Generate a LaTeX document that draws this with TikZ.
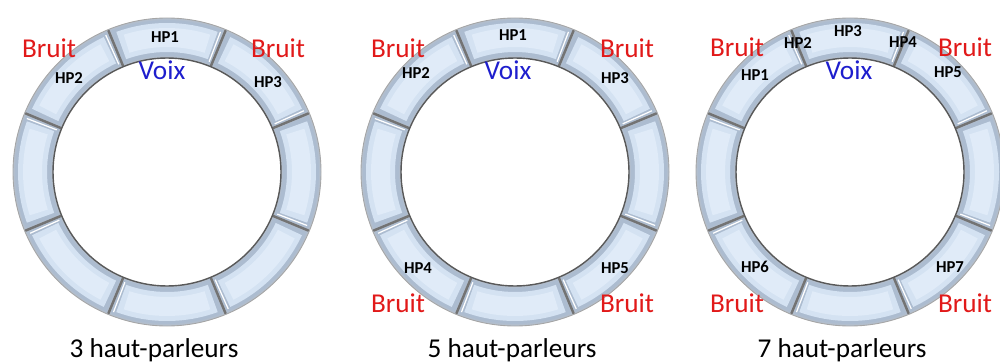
\documentclass[tikz,border=0pt]{standalone}
\usepackage{fontspec}
\setmainfont{Carlito}
\definecolor{bord}{RGB}{178,190,205}
\definecolor{segfond}{RGB}{172,188,208}
\definecolor{segclair}{RGB}{212,226,242}
\definecolor{segblanc}{RGB}{224,235,248}
\definecolor{rouge}{RGB}{225,25,25}
\definecolor{bleu}{RGB}{30,30,205}
\begin{document}
\begin{tikzpicture}[x=0.02cm,y=0.02cm,
		bruit/.style={text=rouge,font=\fontsize{15.5}{16}\selectfont,inner sep=0pt},
		voix/.style={text=bleu,font=\fontsize{15.5}{16}\selectfont,inner sep=0pt},
		hp/.style={font=\bfseries\fontsize{9.5}{10}\selectfont,inner sep=0pt},
		titre/.style={font=\fontsize{15.5}{16}\selectfont,inner sep=0pt},
		separation/.style={draw=black!55,line width=1.4pt,line cap=round},
		reflet/.style={draw=white,line width=0.7pt}]
		\useasboundingbox (0,0) rectangle (1000,362);
		% les trois anneaux
		\foreach \cx/\nom in {167/A,515/B,850/C}{
		\begin{scope}[shift={(\cx,190)}]
		\fill[bord,even odd rule] (0,0) circle (154) (0,0) circle (114);
		\foreach \k in {0,...,7}{
		\pgfmathsetmacro\aa{22.5+45*\k}
		\fill[segfond] ({\aa+0.8}:152) arc ({\aa+0.8}:{\aa+44.2}:152)
		-- ({\aa+44.2}:116) arc ({\aa+44.2}:{\aa+0.8}:116) -- cycle;
		\fill[segclair] ({\aa+2.6}:149) arc ({\aa+2.6}:{\aa+42.4}:149)
		-- ({\aa+42.4}:120) arc ({\aa+42.4}:{\aa+2.6}:120) -- cycle;
		\fill[segblanc] ({\aa+5}:144) arc ({\aa+5}:{\aa+40}:144)
		-- ({\aa+40}:125) arc ({\aa+40}:{\aa+5}:125) -- cycle;
		\draw[separation] ({\aa}:115) -- ({\aa}:153);
		\draw[reflet] ({\aa+1.6}:118) -- ({\aa+1.6}:150);
		}
		\draw[black!35,line width=0.5pt] (0,0) circle (154);
		\draw[black!65,line width=0.8pt] (0,0) circle (114);
		\end{scope}
		}
		% 3 haut-parleurs
		\node[hp] (hpA1) at (165,325) {HP1};
		\node[hp] (hpA2) at (69,284) {HP2};
		\node[hp] (hpA3) at (268,280) {HP3};
		\node[voix] (voixA) at (162,292) {Voix};
		\node[bruit] (bruitA1) at (49,314) {Bruit};
		\node[bruit] (bruitA2) at (278,314) {Bruit};
		\node[titre] (titreA) at (154,12) {3 haut-parleurs};
		% 5 haut-parleurs
		\node[hp] (hpB1) at (513,327) {HP1};
		\node[hp] (hpB2) at (416,289) {HP2};
		\node[hp] (hpB3) at (615,284) {HP3};
		\node[hp] (hpB4) at (418,94) {HP4};
		\node[hp] (hpB5) at (615,94) {HP5};
		\node[voix] (voixB) at (508,292) {Voix};
		\node[bruit] (bruitB1) at (398,314) {Bruit};
		\node[bruit] (bruitB2) at (627,314) {Bruit};
		\node[bruit] (bruitB3) at (398,59) {Bruit};
		\node[bruit] (bruitB4) at (627,59) {Bruit};
		\node[titre] (titreB) at (512,12) {5 haut-parleurs};
		% 7 haut-parleurs
		\node[hp] (hpC1) at (755,287) {HP1};
		\node[hp] (hpC2) at (798,319) {HP2};
		\node[hp] (hpC3) at (848,331) {HP3};
		\node[hp] (hpC4) at (903,320) {HP4};
		\node[hp] (hpC5) at (948,290) {HP5};
		\node[hp] (hpC6) at (755,95) {HP6};
		\node[hp] (hpC7) at (950,95) {HP7};
		\node[voix] (voixC) at (849,292) {Voix};
		\node[bruit] (bruitC1) at (737,315) {Bruit};
		\node[bruit] (bruitC2) at (965,315) {Bruit};
		\node[bruit] (bruitC3) at (737,59) {Bruit};
		\node[bruit] (bruitC4) at (965,59) {Bruit};
		\node[titre] (titreC) at (842,12) {7 haut-parleurs};
\end{tikzpicture}
\end{document}
